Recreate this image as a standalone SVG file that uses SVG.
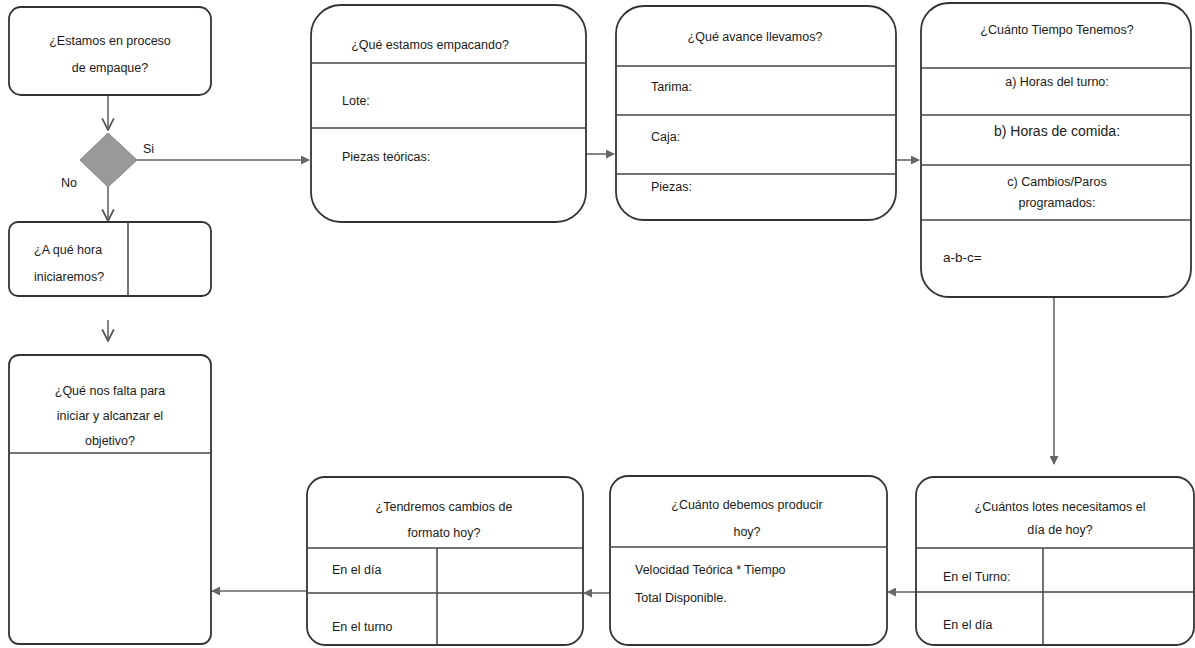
<svg xmlns="http://www.w3.org/2000/svg" width="1195" height="648" viewBox="0 0 1195 648">
<defs>
<style>
.box{fill:#fff;stroke:#333;stroke-width:1.8}
.div{stroke:#444;stroke-width:1.5;fill:none}
.t{font-family:"Liberation Sans",Arial,sans-serif;font-size:12.5px;fill:#1a1a1a}
.c{text-anchor:middle}
.con{stroke:#666;stroke-width:1.6;fill:none}
.dia{fill:#999;stroke:#888;stroke-width:1}
</style>
<marker id="fa" viewBox="0 0 10 10" refX="9" refY="5" markerWidth="9" markerHeight="9" markerUnits="userSpaceOnUse" orient="auto"><path d="M0,0 L10,5 L0,10 z" fill="#666"/></marker>
<marker id="oa" viewBox="0 0 12 12" refX="11" refY="6" markerWidth="14" markerHeight="14" markerUnits="userSpaceOnUse" orient="auto"><path d="M1,1 L11,6 L1,11" fill="none" stroke="#555" stroke-width="1.5"/></marker>
</defs>
<rect width="1195" height="648" fill="#fff"/>

<g id="connectors">
<line class="con" x1="108" y1="96" x2="108" y2="130" marker-end="url(#oa)"/>
<line class="con" x1="108" y1="187" x2="108" y2="221" marker-end="url(#oa)"/>
<line class="con" x1="137" y1="160" x2="309" y2="160" marker-end="url(#fa)"/>
<line class="con" x1="108" y1="320" x2="108" y2="341" marker-end="url(#oa)"/>
<line class="con" x1="586" y1="154" x2="614" y2="154" marker-end="url(#fa)"/>
<line class="con" x1="896" y1="160" x2="919" y2="160" marker-end="url(#fa)"/>
<line class="con" x1="1054" y1="297" x2="1054" y2="464" marker-end="url(#fa)"/>
<line class="con" x1="916" y1="592" x2="888" y2="592" marker-end="url(#fa)"/>
<line class="con" x1="610" y1="593" x2="584" y2="593" marker-end="url(#fa)"/>
<line class="con" x1="307" y1="591" x2="212" y2="591" marker-end="url(#fa)"/>
<text class="t" x="143" y="153">Si</text>
<text class="t" x="61" y="187">No</text>
</g>

<g id="n-inicio">
<rect class="box" x="9" y="7" width="202" height="88" rx="12"/>
<text class="t c" x="110" y="45">¿Estamos en proceso</text>
<text class="t c" x="110" y="72">de empaque?</text>
</g>

<g id="n-decision">
<polygon class="dia" points="108,133 137,160 108,187 80,160"/>
</g>

<g id="n-hora">
<rect class="box" x="9" y="222" width="202" height="74" rx="9"/>
<line class="div" x1="128" y1="222" x2="128" y2="296"/>
<text class="t" x="34" y="254">¿A qué hora</text>
<text class="t" x="34" y="281">iniciaremos?</text>
</g>

<g id="n-falta">
<rect class="box" x="9" y="355" width="202" height="289" rx="10"/>
<line class="div" x1="9" y1="453" x2="211" y2="453"/>
<text class="t c" x="110" y="395">¿Qué nos falta para</text>
<text class="t c" x="110" y="420">iniciar y alcanzar el</text>
<text class="t c" x="110" y="445">objetivo?</text>
</g>

<g id="n-empacando">
<rect class="box" x="311" y="5" width="275" height="217" rx="30"/>
<line class="div" x1="311" y1="63" x2="586" y2="63"/>
<line class="div" x1="311" y1="128" x2="586" y2="128" stroke-width="3.5"/>
<text class="t c" x="430" y="49">¿Qué estamos empacando?</text>
<text class="t" x="342" y="105">Lote:</text>
<text class="t" x="342" y="161">Piezas teóricas:</text>
</g>

<g id="n-avance">
<rect class="box" x="616" y="6" width="280" height="214" rx="28"/>
<line class="div" x1="616" y1="66" x2="896" y2="66"/>
<line class="div" x1="616" y1="115" x2="896" y2="115"/>
<line class="div" x1="616" y1="174" x2="896" y2="174"/>
<text class="t c" x="755" y="41">¿Qué avance llevamos?</text>
<text class="t" x="651" y="91">Tarima:</text>
<text class="t" x="651" y="141">Caja:</text>
<text class="t" x="651" y="191">Piezas:</text>
</g>

<g id="n-tiempo">
<rect class="box" x="921" y="3" width="270" height="294" rx="28"/>
<line class="div" x1="921" y1="68" x2="1191" y2="68"/>
<line class="div" x1="921" y1="115" x2="1191" y2="115"/>
<line class="div" x1="921" y1="165" x2="1191" y2="165"/>
<line class="div" x1="921" y1="220" x2="1191" y2="220"/>
<text class="t c" x="1057" y="34">¿Cuánto Tiempo Tenemos?</text>
<text class="t c" x="1057" y="86">a) Horas del turno:</text>
<text class="t c" x="1057" y="136" style="font-size:14px">b) Horas de comida:</text>
<text class="t c" x="1057" y="186">c) Cambios/Paros</text>
<text class="t c" x="1057" y="207">programados:</text>
<text class="t" x="943" y="262" style="font-size:13.5px">a-b-c=</text>
</g>

<g id="n-lotes">
<rect class="box" x="916" y="477" width="278" height="168" rx="18"/>
<line class="div" x1="916" y1="548" x2="1194" y2="548"/>
<line class="div" x1="916" y1="592" x2="1194" y2="592"/>
<line class="div" x1="1043" y1="548" x2="1043" y2="645"/>
<text class="t c" x="1060" y="511">¿Cuántos lotes necesitamos el</text>
<text class="t c" x="1060" y="534">día de hoy?</text>
<text class="t" x="943" y="581">En el Turno:</text>
<text class="t" x="943" y="629">En el día</text>
</g>

<g id="n-producir">
<rect class="box" x="610" y="476" width="277" height="169" rx="18"/>
<line class="div" x1="610" y1="547" x2="887" y2="547"/>
<text class="t c" x="747" y="509">¿Cuánto debemos producir</text>
<text class="t c" x="747" y="536">hoy?</text>
<text class="t" x="635" y="574">Velocidad Teórica * Tiempo</text>
<text class="t" x="635" y="602">Total Disponible.</text>
</g>

<g id="n-formato">
<rect class="box" x="307" y="477" width="276" height="168" rx="18"/>
<line class="div" x1="307" y1="548" x2="583" y2="548"/>
<line class="div" x1="307" y1="593" x2="583" y2="593"/>
<line class="div" x1="437" y1="548" x2="437" y2="645"/>
<text class="t c" x="444" y="511">¿Tendremos cambios de</text>
<text class="t c" x="444" y="537">formato hoy?</text>
<text class="t" x="332" y="574">En el día</text>
<text class="t" x="332" y="631">En el turno</text>
</g>
</svg>
